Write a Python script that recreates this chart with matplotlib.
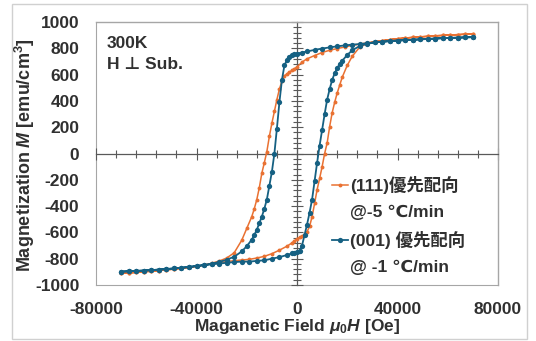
import matplotlib
matplotlib.use("Agg")
import matplotlib.pyplot as plt
from matplotlib.lines import Line2D
from matplotlib.patches import Rectangle
from matplotlib.ticker import MultipleLocator

# Champ appliqué (Oe) : branche descendante puis montante
h_down = [70000, 67000, 64000, 61000, 58000, 55000, 52000, 49000, 46000, 43000,
          40000, 37000, 34000, 31000, 28000, 25000, 22000, 19000, 16000, 13000,
          10000, 7000, 4000, 2000, 0, -1000, -2000, -3000, -4000, -5000,
          -6000, -7000, -8000, -9000, -10000, -11000, -12000, -13000, -14000, -15000,
          -16000, -17000, -18000, -20000, -22000, -25000, -28000, -31000, -34000, -37000,
          -40000, -43000, -46000, -49000, -52000, -55000, -58000, -61000, -64000, -67000,
          -70000]
h_up = [-70000, -67000, -64000, -61000, -58000, -55000, -52000, -49000, -46000, -43000,
        -40000, -37000, -34000, -31000, -28000, -25000, -22000, -19000, -16000, -13000,
        -10000, -7000, -4000, -2000, -1000, 0, 1000, 2000, 3000, 4000,
        5000, 6000, 7000, 8000, 9000, 10000, 11000, 12000, 13000, 14000,
        15000, 16000, 17000, 18000, 20000, 22000, 25000, 28000, 31000, 34000,
        37000, 40000, 43000, 46000, 49000, 52000, 55000, 58000, 61000, 64000,
        67000, 70000]

# (111)優先配向 @-5 ℃/min
m111_down = [910, 907, 904, 901, 898, 895, 891, 887, 883, 878,
             873, 866, 858, 850, 842, 832, 822, 810, 798, 785,
             768, 745, 720, 695, 658, 645, 632, 620, 605, 590,
             550, 490, 410, 320, 230, 130, 15, -70, -150, -260,
             -350, -420, -480, -570, -660, -755, -795, -818, -835, -848,
             -858, -866, -873, -879, -885, -890, -895, -900, -904, -908,
             -912]
m111_up = [-912, -908, -904, -900, -895, -890, -885, -879, -873, -866,
           -858, -849, -840, -830, -822, -815, -810, -805, -795, -782,
           -762, -735, -705, -680, -665, -648, -638, -628, -615, -595,
           -555, -480, -380, -275, -190, -100, 0, 80, 205, 310,
           390, 460, 520, 580, 670, 740, 810, 836, 850, 858,
           866, 873, 878, 883, 887, 891, 895, 898, 901, 904,
           907, 910]

# (001) 優先配向 @ -1 ℃/min
m001_down = [885, 883, 881, 879, 877, 874, 871, 868, 865, 862,
             859, 855, 850, 845, 839, 832, 828, 822, 815, 807,
             798, 788, 776, 768, 760, 755, 748, 735, 710, 670,
             560, 390, 190, 0, -140, -245, -350, -420, -480, -530,
             -580, -620, -655, -705, -745, -785, -808, -825, -838, -848,
             -856, -863, -869, -874, -879, -883, -887, -890, -893, -896,
             -898]
m001_up = [-898, -896, -893, -890, -887, -883, -879, -874, -869, -863,
           -856, -849, -843, -837, -831, -826, -822, -822, -817, -812,
           -800, -788, -772, -760, -755, -752, -745, -700, -620, -540,
           -450, -350, -210, -70, 60, 180, 300, 410, 490, 560,
           610, 650, 680, 705, 750, 785, 818, 836, 845, 850,
           855, 859, 862, 865, 868, 871, 874, 877, 879, 881,
           883, 885]

labels = ["(111)優先配向", "@-5 ℃/min", "(001) 優先配向", "@ -1 ℃/min"]

ORANGE = "#E97132"
BLUE = "#156082"
TXT = "#303030"
FRAME = "#a6a6a6"
AXIS = "#595959"

plt.rcParams["font.family"] = ["Liberation Sans", "DejaVu Sans", "Noto Sans CJK JP"]
plt.rcParams["font.weight"] = "bold"
plt.rcParams["axes.unicode_minus"] = False
plt.rcParams["mathtext.fontset"] = "custom"
plt.rcParams["mathtext.it"] = "Liberation Sans:italic:bold"
plt.rcParams["mathtext.rm"] = "Liberation Sans:bold"

fig = plt.figure(figsize=(5.36, 3.41), dpi=100)
ax = fig.add_axes([96 / 536, 56 / 341, 402 / 536, 263 / 341])

ax.plot(h_down + h_up, m111_down + m111_up, color=ORANGE, lw=1.1,
        marker="o", ms=2.8, mew=0, zorder=3)
ax.plot(h_down + h_up, m001_down + m001_up, color=BLUE, lw=1.3,
        marker="o", ms=3.8, mew=0, zorder=4)

ax.set_xlim(-80000, 80000)
ax.set_ylim(-1000, 1000)

# axes centrales qui passent par zéro
ax.spines["left"].set_position(("data", 0))
ax.spines["bottom"].set_position(("data", 0))
for s in ["left", "bottom"]:
    ax.spines[s].set_color(AXIS)
    ax.spines[s].set_linewidth(0.9)
for s in ["top", "right"]:
    ax.spines[s].set_color(FRAME)
    ax.spines[s].set_linewidth(1.0)

ax.xaxis.set_major_locator(MultipleLocator(40000))
ax.xaxis.set_minor_locator(MultipleLocator(8000))
ax.yaxis.set_major_locator(MultipleLocator(200))
ax.yaxis.set_minor_locator(MultipleLocator(40))
ax.tick_params(which="major", direction="inout", length=9, width=0.8, color=AXIS,
               labelbottom=False, labelleft=False)
ax.tick_params(which="minor", direction="inout", length=6, width=0.8, color=AXIS)

# étiquettes sur le bord du cadre
secx = ax.secondary_xaxis("bottom")
secx.set_xticks([-80000, -40000, 0, 40000, 80000])
secx.tick_params(length=0, pad=12, labelsize=12.5, labelcolor=TXT)
secx.spines["bottom"].set_color(FRAME)
secy = ax.secondary_yaxis("left")
secy.set_yticks(range(-1000, 1001, 200))
secy.tick_params(length=0, pad=12, labelsize=12.5, labelcolor=TXT)
secy.spines["left"].set_color(FRAME)

fig.text(297 / 536, 1 - 326 / 341, r"Maganetic Field $\mu_0H$ [Oe]",
         ha="center", va="center", fontsize=12.5, color=TXT)
fig.text(25 / 536, 1 - 155 / 341, r"Magnetization $M$ [emu/cm$^3$]",
         ha="center", va="center", rotation=90, fontsize=13, color=TXT)

ax.text(0.027, 0.92, "300K", transform=ax.transAxes, ha="left", va="center",
        fontsize=12.5, color=TXT)
ax.text(0.027, 0.837, "H ⊥ Sub.", transform=ax.transAxes, ha="left", va="center",
        fontsize=12.5, color=TXT)

handles = [
    Line2D([], [], color=ORANGE, lw=1.1, marker="o", ms=2.8, mew=0),
    Line2D([], [], color="none"),
    Line2D([], [], color=BLUE, lw=1.3, marker="o", ms=3.8, mew=0),
    Line2D([], [], color="none"),
]
leg = fig.legend(handles, labels, loc="upper left",
                 bbox_to_anchor=(332 / 536, 1 - 176 / 341),
                 frameon=False, borderpad=0, borderaxespad=0,
                 handlelength=0.9, handletextpad=0.15, labelspacing=0.62,
                 prop={"size": 12.5, "weight": "bold"})
for t in leg.get_texts():
    t.set_color(TXT)

fig.patches.append(Rectangle((12 / 536, 2 / 341), 515 / 536, 335 / 341,
                             transform=fig.transFigure, fill=False,
                             edgecolor="#d0d0d0", lw=1.0))

fig.savefig("out.png", dpi=100)
